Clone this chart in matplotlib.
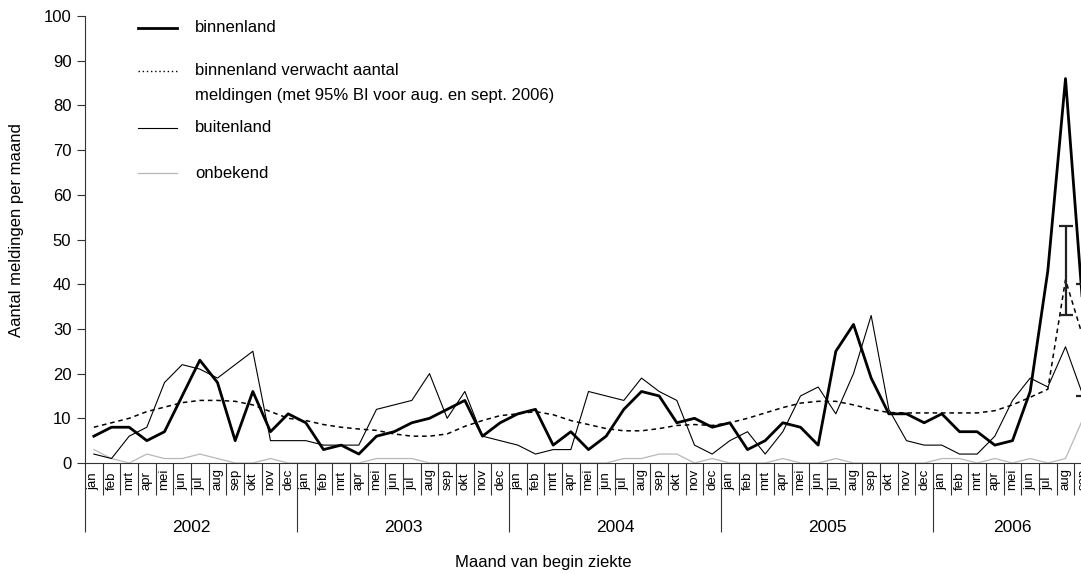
import numpy as np
import matplotlib
matplotlib.use('Agg')
import matplotlib.pyplot as plt
from matplotlib.lines import Line2D

plt.rcParams['font.family'] = ['Liberation Sans', 'DejaVu Sans']

# maanden jan 2002 t/m sep 2006
maanden = ['jan', 'feb', 'mrt', 'apr', 'mei', 'jun', 'jul', 'aug', 'sep', 'okt', 'nov', 'dec']
jaren = [2002, 2003, 2004, 2005, 2006]
maanden_per_jaar = [12, 12, 12, 12, 9]

binnenland = [6, 8, 8, 5, 7, 15, 23, 18, 5, 16, 7, 11,
              9, 3, 4, 2, 6, 7, 9, 10, 12, 14, 6, 9,
              11, 12, 4, 7, 3, 6, 12, 16, 15, 9, 10, 8,
              9, 3, 5, 9, 8, 4, 25, 31, 19, 11, 11, 9,
              11, 7, 7, 4, 5, 16, 43, 86, 34]
verwacht = [8, 9, 10, 11.5, 12.5, 13.5, 14, 14, 13.8, 13, 11.5, 10,
            9.5, 8.6, 8, 7.6, 7.3, 6.5, 6, 6, 6.5, 8.2, 9.5, 10.6,
            11, 11.5, 10.8, 9.5, 8.6, 7.7, 7.2, 7.2, 7.7, 8.4, 8.6, 8.4,
            9, 10, 11.2, 12.4, 13.4, 13.8, 13.8, 13, 12, 11.3, 11.2, 11.2,
            11.2, 11.2, 11.2, 11.7, 13, 14.7, 16.5, 41, 28]
buitenland = [2, 1, 6, 8, 18, 22, 21, 19, 22, 25, 5, 5,
              5, 4, 4, 4, 12, 13, 14, 20, 10, 16, 6, 5,
              4, 2, 3, 3, 16, 15, 14, 19, 16, 14, 4, 2,
              5, 7, 2, 7, 15, 17, 11, 20, 33, 12, 5, 4,
              4, 2, 2, 6, 14, 19, 17, 26, 15]
onbekend = [3, 1, 0, 2, 1, 1, 2, 1, 0, 0, 1, 0,
            0, 0, 0, 0, 1, 1, 1, 0, 0, 0, 0, 0,
            0, 0, 0, 0, 0, 0, 1, 1, 2, 2, 0, 1,
            0, 0, 0, 1, 0, 0, 1, 0, 0, 0, 0, 0,
            1, 1, 0, 1, 0, 1, 0, 1, 10]

# 95% BI voor aug. en sept. 2006
bi_index = [55, 56]
bi_laag = [33, 15]
bi_hoog = [53, 40]

labels = []
for n in maanden_per_jaar:
    labels += maanden[:n]
x = np.arange(len(binnenland)) + 0.5
verwacht = np.array(verwacht)

W, H = 1081, 574
fig = plt.figure(figsize=(W / 100, H / 100), dpi=100)
ax = fig.add_axes([85 / W, 1 - 463 / H, 1007 / W, 447 / H])

ax.plot(x, onbekend, color='#b8b8b8', lw=0.9)
ax.plot(x, buitenland, color='black', lw=0.8)
ax.plot(x, verwacht, color='black', lw=1.1, ls=(0, (3, 2.5)))
ax.plot(x, binnenland, color='black', lw=2.0)

m = verwacht[bi_index]
ax.errorbar(x[bi_index], m, yerr=[m - np.array(bi_laag), np.array(bi_hoog) - m],
            fmt='none', ecolor='#222222', elinewidth=1.6, capsize=5, capthick=1.6)

ax.set_xlim(0, len(binnenland))
ax.set_ylim(0, 100)
ax.spines['top'].set_visible(False)
ax.spines['right'].set_visible(False)
for s in ['left', 'bottom']:
    ax.spines[s].set_linewidth(0.8)
    ax.spines[s].set_color('#333333')

ax.set_yticks(np.arange(0, 101, 10))
ax.tick_params(axis='y', direction='out', length=5.8, width=0.8, pad=4,
               labelsize=12, color='#333333')

# scheidingslijnen tussen maanden en jaren
starts = np.cumsum([0] + maanden_per_jaar[:-1])
ax.set_xticks(starts)
ax.set_xticks(np.arange(0, len(binnenland) + 1), minor=True)
ax.tick_params(axis='x', which='major', direction='out', length=49.5, width=0.8,
               labelbottom=False, color='#333333')
ax.tick_params(axis='x', which='minor', direction='out', length=23, width=0.8,
               color='#333333')

for xi, lab in zip(x, labels):
    ax.annotate(lab, xy=(xi, 0), xycoords=('data', 'axes fraction'),
                xytext=(0, -27 * 0.72), textcoords='offset points',
                rotation=90, ha='center', va='bottom', fontsize=9.5)

for s, n, j in zip(starts, maanden_per_jaar, jaren):
    ax.annotate(str(j), xy=(s + n / 2, 0), xycoords=('data', 'axes fraction'),
                xytext=(0, -64 * 0.72), textcoords='offset points',
                ha='center', va='center', fontsize=12.5)

fig.text(543 / W, 1 - 562 / H, 'Maand van begin ziekte', ha='center', va='center', fontsize=12)
fig.text(17 / W, 1 - 230 / H, 'Aantal meldingen per maand', rotation=90,
         ha='center', va='center', fontsize=12)

# legenda
legenda = [
    (27.5, dict(color='black', lw=2.0), 'binnenland'),
    (70.5, dict(color='black', lw=1.0, ls=(0, (1, 2))), 'binnenland verwacht aantal'),
    (95.5, None, 'meldingen (met 95% BI voor aug. en sept. 2006)'),
    (128, dict(color='black', lw=0.8), 'buitenland'),
    (173, dict(color='#b8b8b8', lw=0.9), 'onbekend'),
]
for y, stijl, tekst in legenda:
    if stijl is not None:
        fig.add_artist(Line2D([138 / W, 177 / W], [1 - y / H] * 2,
                              transform=fig.transFigure, **stijl))
    fig.text(195 / W, 1 - y / H, tekst, ha='left', va='center', fontsize=12)

fig.savefig('out.png', dpi=100)
